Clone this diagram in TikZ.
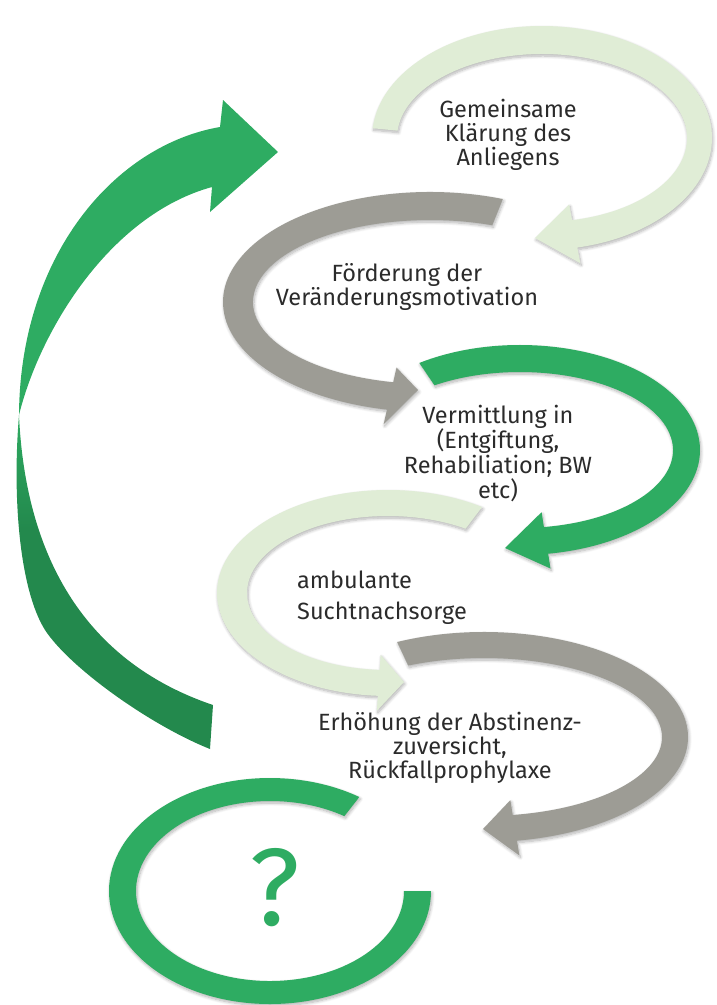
\documentclass[tikz,border=0pt]{standalone}
\usepackage{fontspec}
\setmainfont{Fira Sans}
\usetikzlibrary{calc,shadows.blur}
\definecolor{lgreen}{HTML}{E0EDD6}
\definecolor{mgray}{HTML}{9D9C95}
\definecolor{mgreen}{HTML}{2EAC62}
\definecolor{dgreen}{HTML}{23894D}
\definecolor{txt}{HTML}{2B2B2B}
\pgfdeclareverticalshading{bigshade}{100bp}{color(0bp)=(dgreen); color(42bp)=(dgreen); color(51bp)=(mgreen); color(100bp)=(mgreen)}
\pgfkeys{/ra/.cd,
  cx/.store in=\racx, cy/.store in=\racy, ao/.store in=\raao, bo/.store in=\rabo,
  ai/.store in=\raai, bi/.store in=\rabi, s/.store in=\ras, e/.store in=\rae, barb/.store in=\rabarb}
\newcommand{\ringarrow}[3]{%
  \pgfkeys{/ra/.cd,#3}%
  \coordinate (#1-o) at ({\racx+\raao*cos(\rae)},{\racy+\rabo*sin(\rae)});
  \coordinate (#1-i) at ({\racx+\raai*cos(\rae)},{\racy+\rabi*sin(\rae)});
  \fill[#2,softshadow] ({\racx+\raao*cos(\ras)},{\racy+\rabo*sin(\ras)})
     arc[start angle=\ras,end angle=\rae,x radius=\raao,y radius=\rabo]
     -- ($(#1-o)!-\rabarb!(#1-i)$) -- (#1-tip) -- ($(#1-i)!-\rabarb!(#1-o)$)
     -- (#1-i) arc[start angle=\rae,end angle=\ras,x radius=\raai,y radius=\rabi] -- cycle;
}
\tikzset{lbl/.style={inner sep=0pt, text=txt},
  softshadow/.style={blur shadow={shadow xshift=1pt, shadow yshift=-2pt, shadow blur radius=3pt, shadow blur steps=8, shadow opacity=30}}}
\begin{document}
\begin{tikzpicture}[x=1pt,y=-1pt]
\useasboundingbox (0,0) rectangle (716,1005);
% big left arrow
\coordinate (bx) at (19,415);
\coordinate (btip) at (278,152);
\shade[shading=bigshade] (bx)
  .. controls (40,330) and (110,215) .. (212,187)
  -- (210,212) -- (btip) -- (223,100) -- (220,127)
  .. controls (115,145) and (20,255) .. (bx)
  .. controls (12,500) and (20,590) .. (45,630)
  .. controls (70,668) and (150,725) .. (210,749)
  -- (213,705)
  .. controls (80,660) and (25,550) .. (bx) -- cycle;
% ring arrows
\coordinate (a1-tip) at (535,238);
\ringarrow{a1}{lgreen}{cx=542,cy=138,ao=170,bo=112,ai=145,bi=84,s=185,e=438,barb=16pt}
\coordinate (a2-tip) at (418,390);
\ringarrow{a2}{mgray}{cx=430,cy=302,ao=207,bo=110,ai=177,bi=82,s=290.6,e=102,barb=15pt}
\coordinate (a3-tip) at (505,548);
\ringarrow{a3}{mgreen}{cx=520,cy=450,ao=180,bo=105,ai=153,bi=78,s=236,e=441,barb=15pt}
\coordinate (a4-tip) at (404,682);
\ringarrow{a4}{lgreen}{cx=388,cy=593,ao=171,bo=103,ai=141,bi=77,s=303.4,e=93.4,barb=15pt}
\coordinate (a5-tip) at (483,829);
\ringarrow{a5}{mgray}{cx=484,cy=737,ao=204,bo=105,ai=178,bi=79,s=244.8,e=440.7,barb=15pt}
% C ring
\fill[mgreen,softshadow] (431,891) arc[start angle=0,end angle=303.7,x radius=161,y radius=113]
  -- ({270+134*cos(303.7)},{891+90*sin(303.7)}) arc[start angle=303.7,end angle=0,x radius=134,y radius=90] -- cycle;
% texts
\node[lbl,align=center,font=\fontsize{23.5}{24}\selectfont] (t1) at (508,135) {Gemeinsame\\Klärung des\\Anliegens};
\node[lbl,align=center,font=\fontsize{23.5}{21.5}\selectfont] (t2) at (407,287) {Förderung der\\Veränderungsmotivation};
\node[lbl,align=center,font=\fontsize{23.5}{25}\selectfont] (t3) at (498,454) {Vermittlung in\\(Entgiftung,\\Rehabiliation; BW\\etc)};
\node[lbl,align=left,anchor=west,font=\fontsize{23.5}{31}\selectfont] (t4) at (297,598) {ambulante\\Suchtnachsorge};
\node[lbl,align=center,font=\fontsize{23.5}{24}\selectfont] (t5) at (450,748) {Erhöhung der Abstinenz-\\zuversicht,\\Rückfallprophylaxe};
\node[inner sep=0pt,anchor=base,text=mgreen,font=\fontsize{110}{110}\selectfont] (q) at (275,925) {?};
\end{tikzpicture}
\end{document}
